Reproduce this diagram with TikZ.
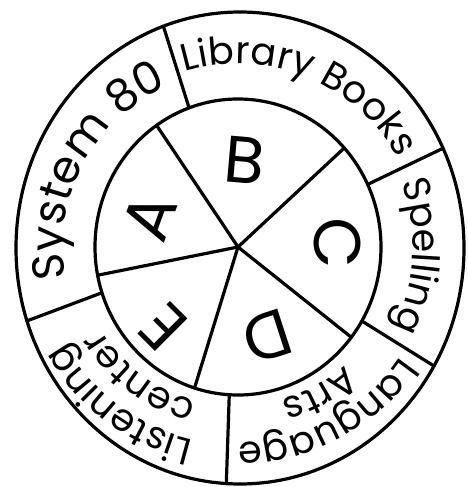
\documentclass[tikz,border=0pt]{standalone}
\usepackage{fontspec}
\setmainfont{Poppins}
\usetikzlibrary{decorations.text}
\newcommand\ringfont{\fontsize{38}{38}\selectfont}
\newcommand\sysfont{\fontsize{45}{45}\selectfont}
\newcommand\bigfont{\fontsize{66}{66}\selectfont}
\begin{document}
\begin{tikzpicture}[x=1pt,y=1pt,line width=3.2pt,line cap=round,
  ringtext/.style={decorate,decoration={text along path,text align=center,text={#1}}},
  letter/.style={font=\bigfont,inner sep=0pt}]
\useasboundingbox (-238,-240) rectangle (229,247);
\coordinate (O) at (0,0);
% circles
\draw (2,-1) ellipse [x radius=224pt,y radius=236pt];
\draw (O) ellipse [x radius=143pt,y radius=148pt];
% spokes
\coordinate (ab) at (124.7:143pt and 148pt);
\coordinate (bc) at (42:143pt and 148pt);
\coordinate (cd) at (-37.6:143pt and 148pt);
\coordinate (de) at (-107.7:143pt and 148pt);
\coordinate (ea) at (191:143pt and 148pt);
\foreach \p in {ab,bc,cd,de,ea} \draw (O) -- (\p);
% ring dividers
\foreach \a/\n in {110/sl,25/ls,-30/sp,-93.5/la,198/lc}{
  \coordinate (\n i) at (\a:143pt and 148pt);
  \coordinate (\n o) at ([shift={(2,-1)}]\a:224pt and 236pt);
  \draw (\n i) -- (\n o);
}
% sector letters
\node[letter,rotate=-5] (B) at (7,87) {B};
\node[letter,rotate=-88] (C) at (99,4) {C};
\node[letter,rotate=-162] (D) at (29,-90) {D};
\node[letter,rotate=135] (E) at (-75,-80) {E};
\node[letter,rotate=70] (A) at (-88,30) {A};
% ring texts
\path[ringtext={|\ringfont|Library Books}] (128:183pt) arc[start angle=128,end angle=8,radius=183pt];
\path[ringtext={|\sysfont|System 80}] (212:175pt) arc[start angle=212,end angle=92,radius=175pt];
\path[ringtext={|\ringfont|Spelling}] (27:175pt) arc[start angle=27,end angle=-33,radius=175pt];
\path[ringtext={|\ringfont|Language}] (-12:196pt) arc[start angle=-12,end angle=-112,radius=196pt];
\path[ringtext={|\ringfont|Arts}] (-21:159pt) arc[start angle=-21,end angle=-101,radius=159pt];
\path[ringtext={|\ringfont|Listening}] (-77:198pt) arc[start angle=-77,end angle=-177,radius=198pt];
\path[ringtext={|\ringfont|center}] (-77:160pt) arc[start angle=-77,end angle=-177,radius=160pt];
\end{tikzpicture}
\end{document}
